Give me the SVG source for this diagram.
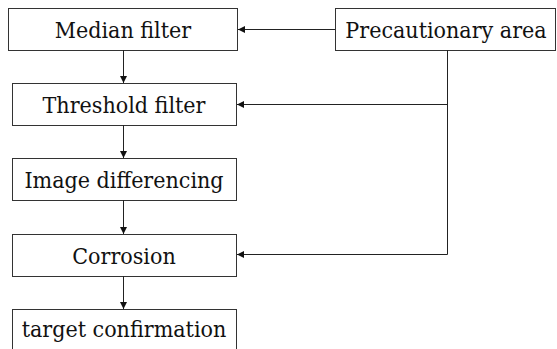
<svg xmlns="http://www.w3.org/2000/svg" width="557" height="349" viewBox="0 0 557 349">
<style>
.box{fill:#fff;stroke:#333;stroke-width:1}
.t{font-family:"DejaVu Serif Condensed","DejaVu Serif",serif;font-stretch:condensed;font-size:23px;fill:#111;text-anchor:middle}
.c{fill:none;stroke:#222;stroke-width:1}
</style>
<defs>
<marker id="ah" viewBox="0 0 10 10" refX="10" refY="5" markerWidth="7" markerHeight="7" orient="auto" markerUnits="userSpaceOnUse">
<path d="M0,0 L10,5 L0,10 Z" fill="#111"/>
</marker>
</defs>
<rect width="557" height="349" fill="#fff"/>
<g id="median"><rect class="box" x="8.5" y="8.5" width="229" height="42"/><text class="t" x="123" y="37.5">Median filter</text></g>
<g id="precaution"><rect class="box" x="335.5" y="8.5" width="220" height="42"/><text class="t" x="446" y="37.5">Precautionary area</text></g>
<g id="threshold"><rect class="box" x="12.5" y="83.5" width="224" height="42"/><text class="t" x="124" y="112.5">Threshold filter</text></g>
<g id="differencing"><rect class="box" x="12.5" y="158.5" width="224" height="42"/><text class="t" x="124" y="187.5">Image differencing</text></g>
<g id="corrosion"><rect class="box" x="12.5" y="234.5" width="224" height="42"/><text class="t" x="124" y="263.5">Corrosion</text></g>
<g id="target"><rect class="box" x="12.5" y="309.5" width="224" height="60"/><text class="t" x="124" y="337">target confirmation</text></g>
<g id="connectors">
<path class="c" d="M123.5,50 V83" marker-end="url(#ah)"/>
<path class="c" d="M123.5,125 V158" marker-end="url(#ah)"/>
<path class="c" d="M123.5,200 V234" marker-end="url(#ah)"/>
<path class="c" d="M123.5,276 V309" marker-end="url(#ah)"/>
<path class="c" d="M335,29.5 H238" marker-end="url(#ah)"/>
<path class="c" d="M447.5,50 V254.5"/>
<path class="c" d="M447.5,104.5 H237" marker-end="url(#ah)"/>
<path class="c" d="M447.5,254.5 H237" marker-end="url(#ah)"/>
</g>
</svg>
